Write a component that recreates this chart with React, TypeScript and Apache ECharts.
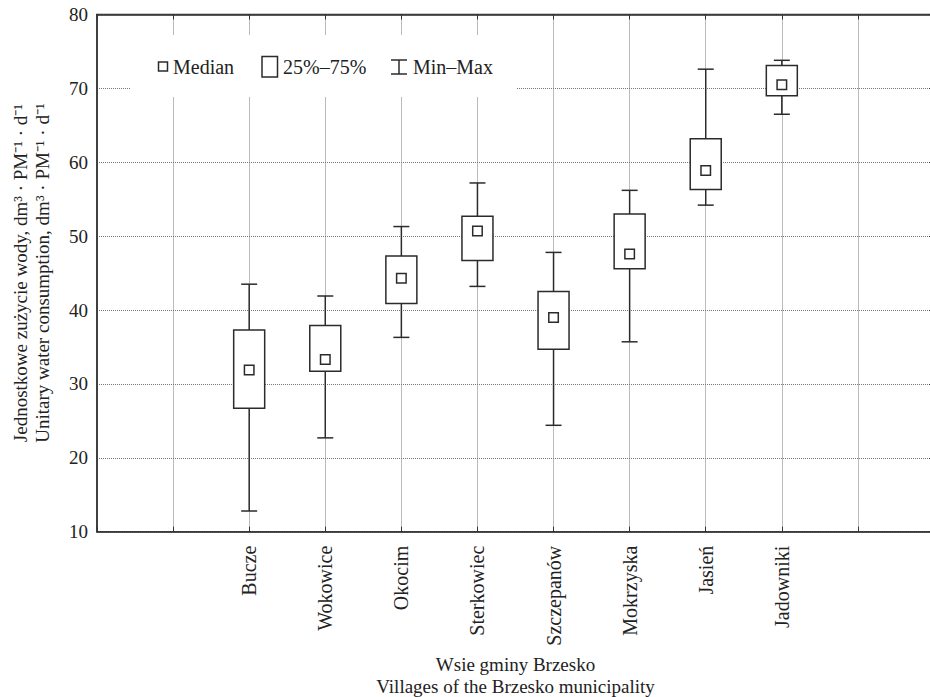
import React, { useEffect, useRef } from "react";
import * as echarts from "echarts";

const categories = ["", "", "Bucze", "Wokowice", "Okocim", "Sterkowiec", "Szczepanów", "Mokrzyska", "Jasień", "Jadowniki", "", ""];
const villageIndex = [2, 3, 4, 5, 6, 7, 8, 9];
const minVals = [12.8, 22.7, 36.3, 43.2, 24.4, 35.7, 54.2, 66.5];
const q1Vals = [26.7, 31.7, 40.9, 46.7, 34.7, 45.6, 56.3, 69.0];
const medianVals = [31.9, 33.3, 44.3, 50.7, 39.0, 47.6, 58.9, 70.5];
const q3Vals = [37.3, 37.9, 47.3, 52.7, 42.5, 53.0, 63.2, 73.1];
const maxVals = [43.5, 41.9, 51.3, 57.2, 47.8, 56.2, 72.6, 73.8];
const yTicks = { min: 10, max: 80, interval: 10 };

const FONT = "'Liberation Serif', 'Times New Roman', serif";
const INK = "#2b2b2b";

export default function App() {
  const ref = useRef<HTMLDivElement>(null);
  useEffect(() => {
    document.body.style.margin = "0";
    const chart = echarts.init(ref.current!, null, { renderer: "svg" });
    const data = villageIndex.map((c, i) => [c, minVals[i], q1Vals[i], medianVals[i], q3Vals[i], maxVals[i]]);
    const lineStyle = { stroke: INK, lineWidth: 1.5, fill: "none" };
    chart.setOption({
      animation: false,
      backgroundColor: "#fff",
      textStyle: { fontFamily: FONT },
      grid: {
        left: 97, top: 14.5, right: -4, bottom: 165.3,
        containLabel: false, outerBoundsMode: "none",
        show: true, borderColor: "#333", borderWidth: 1.5,
      },
      xAxis: [
        {
          type: "category",
          data: categories,
          boundaryGap: false,
          axisLine: { show: true, lineStyle: { color: "#333", width: 1.5 } },
          axisTick: { show: true, inside: true, length: 5, interval: 0, lineStyle: { color: "#333" } },
          axisLabel: { rotate: 90, interval: 0, margin: 14, fontSize: 20, color: "#222", fontFamily: FONT },
          splitLine: { show: true, interval: 0, lineStyle: { color: "#777", type: "dotted", width: 1 } },
          name: "Wsie gminy Brzesko\nVillages of the Brzesko municipality",
          nameLocation: "middle",
          nameGap: 112,
          nameTextStyle: { fontSize: 19, color: "#222", fontFamily: FONT, lineHeight: 22 },
        },
        {
          type: "category",
          data: categories,
          boundaryGap: false,
          position: "top",
          axisLine: { show: true, lineStyle: { color: "#333", width: 1.5 } },
          axisTick: { show: true, inside: true, length: 5, interval: 0, lineStyle: { color: "#333" } },
          axisLabel: { show: false },
          splitLine: { show: false },
        },
      ],
      yAxis: [
        {
          type: "value",
          min: yTicks.min,
          max: yTicks.max,
          interval: yTicks.interval,
          axisLine: { show: true, lineStyle: { color: "#333", width: 1.5 } },
          axisTick: { show: false },
          axisLabel: { fontSize: 19, color: "#222", fontFamily: FONT, margin: 9 },
          splitLine: { show: true, lineStyle: { color: "#777", type: "dotted", width: 1 } },
          name: "Jednostkowe zużycie wody, dm³ · PM⁻¹ · d⁻¹\nUnitary water consumption, dm³ · PM⁻¹ · d⁻¹",
          nameLocation: "middle",
          nameRotate: 90,
          nameGap: 44,
          nameTextStyle: { fontSize: 19, color: "#222", fontFamily: FONT, lineHeight: 22 },
        },
        {
          type: "value",
          position: "right",
          min: yTicks.min,
          max: yTicks.max,
          interval: yTicks.interval,
          axisLine: { show: true, lineStyle: { color: "#333", width: 1.5 } },
          axisTick: { show: true, inside: true, length: 5, lineStyle: { color: "#333" } },
          axisLabel: { show: false },
          splitLine: { show: false },
        },
      ],
      series: [
        {
          type: "custom",
          xAxisIndex: 0,
          yAxisIndex: 0,
          data,
          z: 10,
          renderItem: (params: any, api: any) => {
            const x = api.value(0);
            const lo = api.coord([x, api.value(1)]);
            const q1 = api.coord([x, api.value(2)]);
            const med = api.coord([x, api.value(3)]);
            const q3 = api.coord([x, api.value(4)]);
            const hi = api.coord([x, api.value(5)]);
            const cx = lo[0];
            const bw = 31;
            const cw = 16;
            const ms = 9.5;
            return {
              type: "group",
              children: [
                { type: "line", shape: { x1: cx, y1: hi[1], x2: cx, y2: q3[1] }, style: lineStyle },
                { type: "line", shape: { x1: cx, y1: q1[1], x2: cx, y2: lo[1] }, style: lineStyle },
                { type: "line", shape: { x1: cx - cw / 2, y1: hi[1], x2: cx + cw / 2, y2: hi[1] }, style: lineStyle },
                { type: "line", shape: { x1: cx - cw / 2, y1: lo[1], x2: cx + cw / 2, y2: lo[1] }, style: lineStyle },
                { type: "rect", shape: { x: cx - bw / 2, y: q3[1], width: bw, height: q1[1] - q3[1] }, style: { stroke: INK, lineWidth: 1.5, fill: "#fff" } },
                { type: "rect", shape: { x: cx - ms / 2, y: med[1] - ms / 2, width: ms, height: ms }, style: { stroke: INK, lineWidth: 1.5, fill: "#fff" } },
              ],
            };
          },
        },
      ],
      graphic: [
        { type: "rect", shape: { x: 130, y: 35, width: 387, height: 62 }, style: { fill: "#fff" }, z: 20 },
        { type: "rect", shape: { x: 158.5, y: 62, width: 9, height: 9 }, style: { stroke: INK, lineWidth: 1.5, fill: "#fff" }, z: 21 },
        { type: "text", x: 173, y: 67, style: { text: "Median", font: `20px ${FONT}`, fill: "#222", verticalAlign: "middle" }, z: 21 },
        { type: "rect", shape: { x: 262, y: 56.5, width: 15.5, height: 20.5 }, style: { stroke: INK, lineWidth: 1.5, fill: "#fff" }, z: 21 },
        { type: "text", x: 283, y: 67, style: { text: "25%–75%", font: `20px ${FONT}`, fill: "#222", verticalAlign: "middle" }, z: 21 },
        { type: "line", shape: { x1: 399, y1: 60, x2: 399, y2: 74 }, style: { stroke: INK, lineWidth: 1.5 }, z: 21 },
        { type: "line", shape: { x1: 391, y1: 60, x2: 407, y2: 60 }, style: { stroke: INK, lineWidth: 1.5 }, z: 21 },
        { type: "line", shape: { x1: 391, y1: 74, x2: 407, y2: 74 }, style: { stroke: INK, lineWidth: 1.5 }, z: 21 },
        { type: "text", x: 413, y: 67, style: { text: "Min–Max", font: `20px ${FONT}`, fill: "#222", verticalAlign: "middle" }, z: 21 },
      ],
    });
    return () => chart.dispose();
  }, []);
  return <div ref={ref} style={{ width: 930, height: 697 }} />;
}
